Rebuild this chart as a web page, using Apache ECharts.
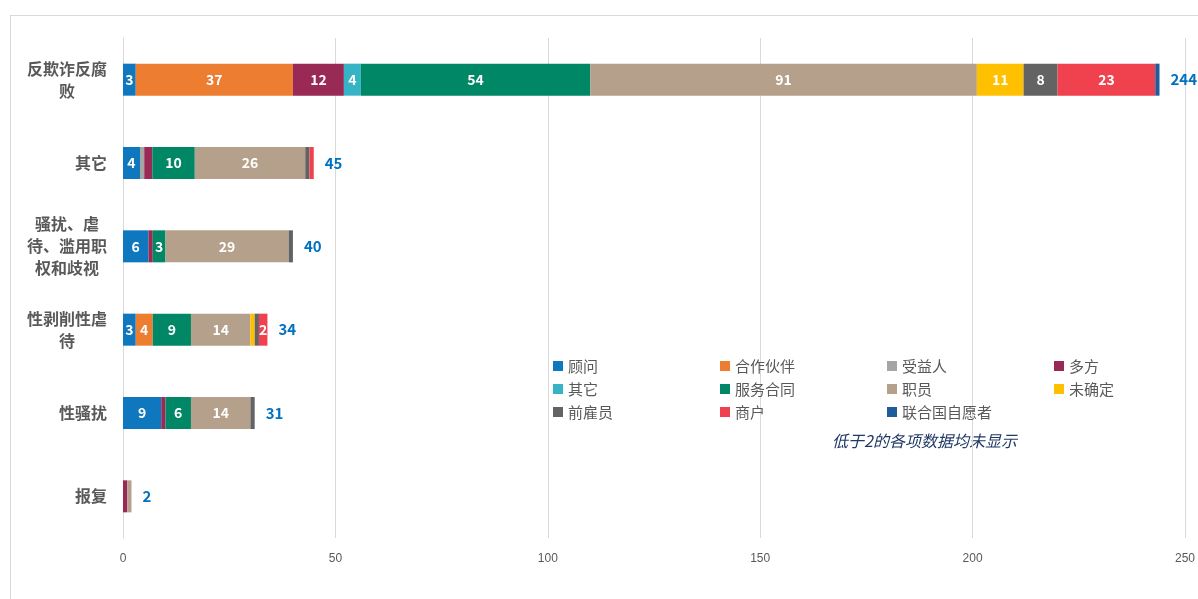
<!DOCTYPE html>
<html>
<head>
<meta charset="utf-8">
<script src="https://cdn.jsdelivr.net/npm/echarts@6/dist/echarts.min.js"></script>
<style>
  html, body { margin: 0; padding: 0; background: #fff; }
  #main { width: 1198px; height: 599px; }
</style>
</head>
<body>
<div id="main"></div>
<script>
// 类别（自上而下）
var categories = ['反欺诈反腐\n败', '其它', '骚扰、虐\n待、滥用职\n权和歧视', '性剥削性虐\n待', '性骚扰', '报复'];
var seriesNames = ['顾问', '合作伙伴', '受益人', '多方', '其它', '服务合同', '职员', '未确定', '前雇员', '商户', '联合国自愿者'];
var guwen    = [3, 4, 6, 3, 9, 0];
var hezuo    = [37, 0, 0, 4, 0, 0];
var shouyi   = [0, 1, 0, 0, 0, 0];
var duofang  = [12, 1.9, 1, 0, 1, 1];
var qita     = [4, 0, 0, 0, 0, 0];
var fuwu     = [54, 10, 3, 9, 6, 0];
var zhiyuan  = [91, 26, 29, 14, 14, 1];
var weiqueding = [11, 0, 0, 1, 0, 0];
var qianguyuan = [8, 1, 1, 1, 1, 0];
var shanghu  = [23, 1, 0, 2, 0, 0];
var unv      = [1, 0, 0, 0, 0, 0];
var totals   = [244, 45, 40, 34, 31, 2];
var xTicks   = [0, 50, 100, 150, 200, 250];
var note = '低于2的各项数据均未显示';

var seriesData = [guwen, hezuo, shouyi, duofang, qita, fuwu, zhiyuan, weiqueding, qianguyuan, shanghu, unv];
var colors = ['#0F77BD', '#ED7D31', '#A5A5A5', '#992A55', '#36B4C6', '#008765', '#B5A08C', '#FFC000', '#636363', '#F0414F', '#1F5C99'];

var cjk = '"Noto Sans CJK SC", "Noto Sans", sans-serif';
var chart = echarts.init(document.getElementById('main'));

var series = seriesNames.map(function(name, i) {
    return {
        name: name,
        type: 'bar',
        stack: 'all',
        barWidth: 32,
        itemStyle: { color: colors[i] },
        label: {
            show: true,
            position: 'inside',
            color: '#fff',
            fontWeight: 'bold',
            fontSize: 14,
            fontFamily: cjk,
            // 低于2的不显示
            formatter: function(p) { return p.value >= 2 ? p.value : ''; }
        },
        data: seriesData[i]
    };
});
// 合计标签
series.push({
    name: '合计',
    type: 'bar',
    stack: 'all',
    barWidth: 32,
    itemStyle: { color: 'transparent' },
    label: {
        show: true,
        position: 'right',
        distance: 11,
        color: '#0070C0',
        fontWeight: 'bold',
        fontSize: 15,
        fontFamily: cjk,
        formatter: function(p) { return totals[p.dataIndex]; }
    },
    data: totals.map(function() { return 0; })
});

var rich = {};
[2, 3, 4, 5].forEach(function(n) {
    rich['w' + n] = { width: n * 16, align: 'center', fontSize: 16, fontWeight: 'bold', color: '#595959', fontFamily: cjk, lineHeight: 22 };
});

chart.setOption({
    animation: false,
    color: colors,
    legend: {
        data: seriesNames,
        left: 553,
        top: 358,
        width: 700,
        itemWidth: 10,
        itemHeight: 10,
        itemGap: 7,
        icon: 'rect',
        padding: 0,
        textStyle: { fontSize: 15, color: '#595959', fontFamily: cjk, width: 145, lineHeight: 16 }
    },
    grid: { left: 123, right: 12, top: 38, bottom: 61 },
    xAxis: {
        type: 'value',
        min: xTicks[0],
        max: xTicks[xTicks.length - 1],
        interval: 50,
        axisLine: { show: false },
        axisTick: { show: false },
        splitLine: { lineStyle: { color: '#D9D9D9', width: 1 } },
        axisLabel: { color: '#595959', fontSize: 12, fontFamily: 'Liberation Sans Narrow, Liberation Sans', margin: 15 }
    },
    yAxis: {
        type: 'category',
        inverse: true,
        data: categories,
        axisLine: { lineStyle: { color: '#D9D9D9' } },
        axisTick: { show: false },
        axisLabel: {
            margin: 16,
            formatter: function(v) {
                var lines = v.split('\n');
                var n = Math.max.apply(null, lines.map(function(l) { return l.length; }));
                return lines.map(function(l) { return '{w' + n + '|' + l + '}'; }).join('\n');
            },
            rich: rich
        }
    },
    graphic: [
        { type: 'line', shape: { x1: 10.5, y1: 15, x2: 10.5, y2: 599 }, style: { stroke: '#D9D9D9', lineWidth: 1 } },
        { type: 'line', shape: { x1: 10, y1: 15.5, x2: 1198, y2: 15.5 }, style: { stroke: '#D9D9D9', lineWidth: 1 } },
        { type: 'text', left: 832, top: 433, style: { text: note, fill: '#1F3864', fontSize: 16, fontStyle: 'italic', fontFamily: cjk } }
    ],
    series: series
});
</script>
</body>
</html>
